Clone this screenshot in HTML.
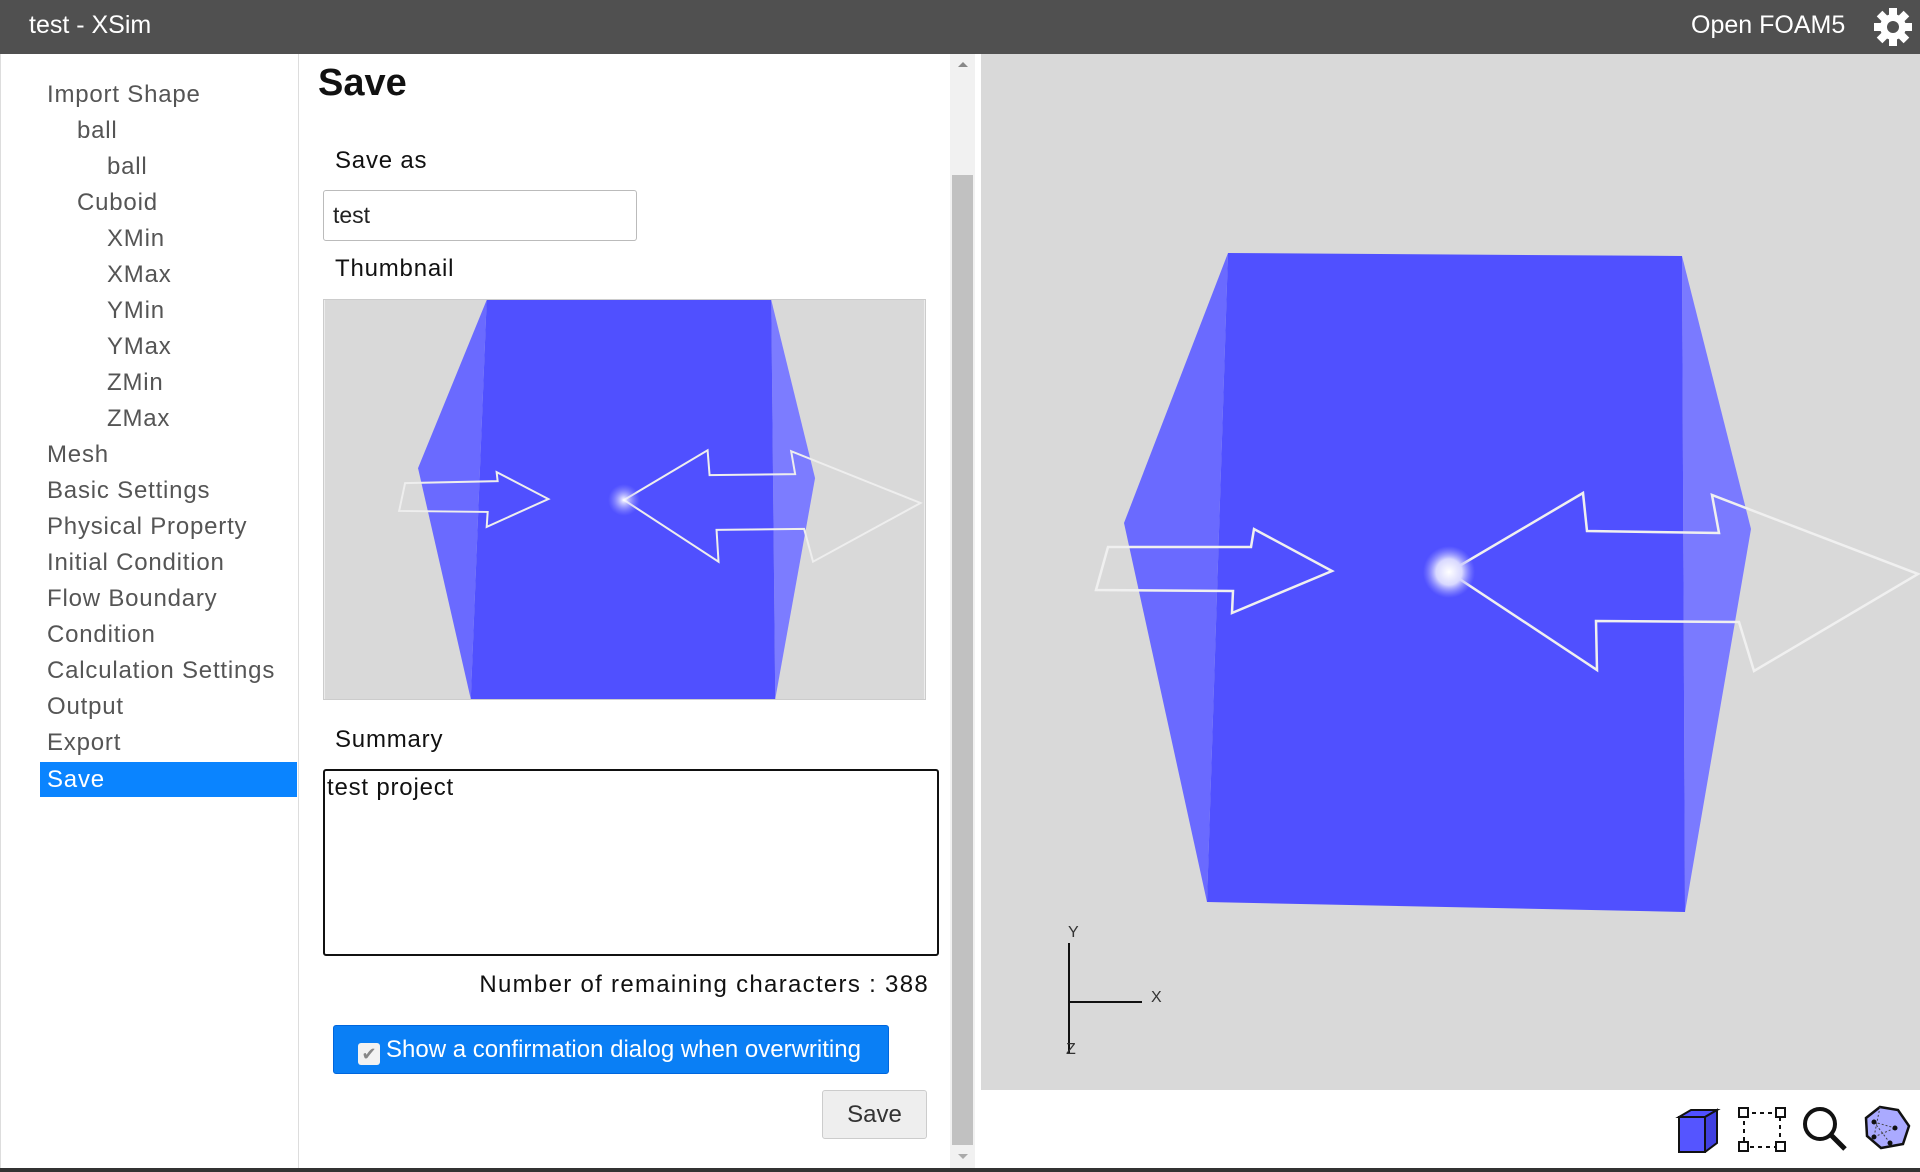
<!DOCTYPE html>
<html><head><meta charset="utf-8">
<style>
*{box-sizing:border-box;margin:0;padding:0}
body{width:1920px;height:1172px;overflow:hidden;background:#fff;font-family:"Liberation Sans","DejaVu Sans",sans-serif;position:relative}
.a{position:absolute}
#hdr{left:0;top:0;width:1920px;height:54px;background:#505050;color:#fff}
#side{left:0;top:54px;width:299px;height:1114px;border-right:1px solid #ddd;border-left:1px solid #ddd}
.it{position:absolute;font-size:24px;color:#555;line-height:36px;white-space:nowrap;letter-spacing:0.8px}
#mid{left:299px;top:54px;width:651px;height:1114px}
.lbl{position:absolute;font-size:24px;color:#111;white-space:nowrap;letter-spacing:0.8px}
</style></head><body>
<div id="hdr" class="a">
 <div class="a" style="left:29px;top:11px;font-size:25px">test - XSim</div>
 <div class="a" style="left:1691px;top:11px;font-size:25px">Open FOAM5</div>
 <svg class="a" style="left:1873px;top:7px" width="40" height="40" viewBox="0 0 40 40">
  <g fill="#fff" transform="translate(20,20)">
   <circle r="13"/>
   <rect x="-4" y="-19" width="8" height="38"/><rect x="-4" y="-19" width="8" height="38" transform="rotate(45)"/>
   <rect x="-4" y="-19" width="8" height="38" transform="rotate(90)"/><rect x="-4" y="-19" width="8" height="38" transform="rotate(135)"/>
  </g><circle cx="20" cy="20" r="6" fill="#505050"/>
 </svg>
</div>

<div id="side" class="a">
 <div class="it" style="left:46px;top:23px">Import Shape</div>
 <div class="it" style="left:76px;top:59px">ball</div>
 <div class="it" style="left:106px;top:95px">ball</div>
 <div class="it" style="left:76px;top:131px">Cuboid</div>
 <div class="it" style="left:106px;top:167px">XMin</div>
 <div class="it" style="left:106px;top:203px">XMax</div>
 <div class="it" style="left:106px;top:239px">YMin</div>
 <div class="it" style="left:106px;top:275px">YMax</div>
 <div class="it" style="left:106px;top:311px">ZMin</div>
 <div class="it" style="left:106px;top:347px">ZMax</div>
 <div class="it" style="left:46px;top:383px">Mesh</div>
 <div class="it" style="left:46px;top:419px">Basic Settings</div>
 <div class="it" style="left:46px;top:455px">Physical Property</div>
 <div class="it" style="left:46px;top:491px">Initial Condition</div>
 <div class="it" style="left:46px;top:527px">Flow Boundary</div>
 <div class="it" style="left:46px;top:563px">Condition</div>
 <div class="it" style="left:46px;top:599px">Calculation Settings</div>
 <div class="it" style="left:46px;top:635px">Output</div>
 <div class="it" style="left:46px;top:671px">Export</div>
 <div class="it" style="left:39px;top:708px;width:257px;height:35px;background:#0a84ff;color:#fff;padding-left:7px;line-height:35px">Save</div>
</div>

<div id="mid" class="a">
 <div class="a" style="left:19px;top:8px;font-size:38px;font-weight:bold;color:#111">Save</div>
 <div class="lbl" style="left:36px;top:93px">Save as</div>
 <div class="a" style="left:24px;top:136px;width:314px;height:51px;border:1px solid #bbb;border-radius:3px;font-size:23px;padding:11px 9px;color:#222">test</div>
 <div class="lbl" style="left:36px;top:201px">Thumbnail</div>
 <svg class="a" style="left:24px;top:245px;border:1px solid #ccc" width="603" height="401" viewBox="0 0 603 401">
  <defs><radialGradient id="g1"><stop offset="0" stop-color="#fff"/><stop offset="1" stop-color="#9a9aff" stop-opacity="0"/></radialGradient></defs>
  <rect width="603" height="401" fill="#d9d9d9"/>
  <polygon points="163,0 94,169 147,401" fill="#6a6aff"/>
  <polygon points="449,0 493,179 453,401" fill="#7c7cff"/>
  <polygon points="163,0 449,0 453,401 147,401" fill="#5050ff"/>
  <polygon points="75,212 81,184 174,182 173,173 225,200 163,228 164,213" fill="none" stroke="#eee" stroke-width="2"/>
  <polygon points="301,201 385,151 387,176 473,175 469,152 599,204 491,263 482,230 394,231 396,263" fill="none" stroke="#eee" stroke-width="2"/>
  <circle cx="301" cy="201" r="16" fill="url(#g1)"/>
 </svg>
 <div class="lbl" style="left:36px;top:672px">Summary</div>
 <div class="a" style="left:24px;top:715px;width:616px;height:187px;border:2px solid #111;border-radius:3px;font-size:24px;padding:3px 2px;color:#111;letter-spacing:0.8px">test project</div>
 <div class="lbl" style="right:21px;top:917px;letter-spacing:1.3px">Number of remaining characters : 388</div>
 <div class="a" style="left:34px;top:971px;width:556px;height:49px;background:#0a7ff5;border:1px solid #0066dd;border-radius:3px;color:#fff;font-size:24px;line-height:47px;padding-left:24px;white-space:nowrap"><span style="display:inline-block;width:22px;height:22px;background:#f2f2f2;border-radius:3px;vertical-align:-3px;color:#888;font-size:18px;line-height:22px;text-align:center;margin-right:6px">✔</span>Show a confirmation dialog when overwriting</div>
 <div class="a" style="left:523px;top:1036px;width:105px;height:49px;background:#eee;border:1px solid #ccc;border-radius:3px;font-size:24px;line-height:47px;text-align:center;color:#333">Save</div>
</div>

<div class="a" style="left:950px;top:54px;width:25px;height:1114px;background:#f1f1f1">
 <div class="a" style="left:8px;top:8px;width:0;height:0;border:5px solid transparent;border-bottom-color:#888;border-top:0"></div>
 <div class="a" style="left:2px;top:121px;width:21px;height:970px;background:#c1c1c1"></div>
 <div class="a" style="left:8px;top:1100px;width:0;height:0;border:5px solid transparent;border-top-color:#aaa;border-bottom:0"></div>
</div>

<svg class="a" style="left:981px;top:54px" width="939" height="1036" viewBox="981 54 939 1036">
 <defs><radialGradient id="g2"><stop offset="0" stop-color="#fff"/><stop offset=".5" stop-color="#d8d8ff"/><stop offset="1" stop-color="#9a9aff" stop-opacity="0"/></radialGradient></defs>
 <rect x="981" y="54" width="939" height="1036" fill="#d9d9d9"/>
 <polygon points="1228,253 1124,523 1207,902" fill="#6a6aff"/>
 <polygon points="1682,256 1751,529 1685,912" fill="#7a7aff"/>
 <polygon points="1228,253 1682,256 1685,912 1207,902" fill="#5050ff"/>
 <polygon points="1096,590 1108,547 1251,547 1254,529 1332,571 1232,613 1233,591" fill="none" stroke="#f0f0f0" stroke-width="2.5"/>
 <polygon points="1449,572 1583,493 1587,531 1719,533 1712,495 1918,574 1754,671 1739,622 1596,621 1597,670" fill="none" stroke="#f0f0f0" stroke-width="2.5"/>
 <circle cx="1449" cy="572" r="26" fill="url(#g2)"/>
 <g>
  <line x1="1069" y1="943" x2="1069" y2="1053" stroke="#111" stroke-width="2"/>
  <line x1="1069" y1="1002" x2="1142" y2="1002" stroke="#111" stroke-width="2"/>
  <text x="1068" y="937" font-size="16" fill="#333" font-family="Liberation Sans">Y</text>
  <text x="1151" y="1002" font-size="16" fill="#333" font-family="Liberation Sans">X</text>
  <text x="1066" y="1054" font-size="16" fill="#333" font-family="Liberation Sans">Z</text>
 </g>
</svg>

<div class="a" style="left:975px;top:1090px;width:945px;height:78px;background:#fff">
 <svg class="a" style="left:700px;top:15px" width="53" height="48" viewBox="0 0 53 48">
  <polygon points="4,12 16,5 42,5 30,12" fill="#5050ff" stroke="#111" stroke-width="2"/>
  <polygon points="30,12 42,5 42,38 30,47" fill="#4040e0" stroke="#111" stroke-width="2"/>
  <rect x="4" y="12" width="26" height="35" fill="#5555ff" stroke="#111" stroke-width="2"/>
 </svg>
 <svg class="a" style="left:762px;top:15px" width="50" height="48" viewBox="0 0 50 48">
  <rect x="7" y="8" width="36" height="34" fill="none" stroke="#111" stroke-width="2" stroke-dasharray="4,4"/>
  <rect x="2" y="3" width="9" height="9" fill="#fff" stroke="#111" stroke-width="2"/><rect x="39" y="3" width="9" height="9" fill="#fff" stroke="#111" stroke-width="2"/>
  <rect x="2" y="37" width="9" height="9" fill="#fff" stroke="#111" stroke-width="2"/><rect x="39" y="37" width="9" height="9" fill="#fff" stroke="#111" stroke-width="2"/>
 </svg>
 <svg class="a" style="left:826px;top:15px" width="50" height="50" viewBox="0 0 50 50">
  <circle cx="19" cy="19" r="15" fill="none" stroke="#111" stroke-width="4"/>
  <line x1="30" y1="30" x2="44" y2="44" stroke="#111" stroke-width="5"/>
 </svg>
 <svg class="a" style="left:888px;top:14px" width="48" height="48" viewBox="0 0 48 48">
  <polygon points="17,3 35,6 46,22 40,40 18,44 4,32 3,14" fill="#aaaaff" stroke="#111" stroke-width="2.5"/>
  <g stroke="#444" stroke-dasharray="2,2" fill="none"><line x1="11" y1="18" x2="32" y2="24"/><line x1="11" y1="18" x2="27" y2="39"/><line x1="11" y1="33" x2="32" y2="24"/><line x1="17" y1="3" x2="11" y2="33"/></g>
  <g fill="#111"><circle cx="11" cy="18" r="2.5"/><circle cx="32" cy="24" r="2.5"/><circle cx="11" cy="33" r="2.5"/><circle cx="27" cy="39" r="2.5"/></g>
 </svg>
</div>
<div class="a" style="left:0;top:1168px;width:1920px;height:4px;background:#333"></div>
</body></html>
